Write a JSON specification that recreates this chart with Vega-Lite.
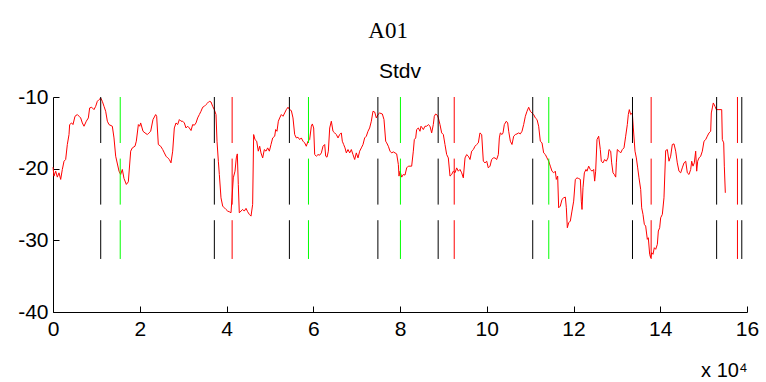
{
  "$schema": "https://vega.github.io/schema/vega-lite/v6.json",
  "background": "white",
  "padding": {"left": 17, "top": 20, "right": 5, "bottom": 5},
  "autosize": {"type": "pad"},
  "title": {"text": "A01", "font": "Liberation Serif", "fontSize": 23, "fontWeight": "normal", "color": "black", "frame": "bounds", "anchor": "middle", "offset": 18},
  "config": {
    "view": {"stroke": null},
    "font": "Liberation Sans",
    "axis": {"grid": false, "domainColor": "black", "tickColor": "black", "labelColor": "black", "labelFont": "Liberation Sans", "labelFontSize": 21, "tickSize": -6, "domainWidth": 1, "tickWidth": 1, "labelExpr": "toString(datum.value)"}
  },
  "datasets": {
    "signal": [
      {"t":0,"v":-19.8},{"t":0.023,"v":-21.04},{"t":0.062,"v":-20.35},{"t":0.1,"v":-21.18},{"t":0.138,"v":-20.58},{"t":0.177,"v":-21.5},{"t":0.215,"v":-20.11},{"t":0.254,"v":-18.96},{"t":0.292,"v":-18.72},{"t":0.33,"v":-16.63},{"t":0.369,"v":-15.24},{"t":0.384,"v":-13.85},{"t":0.43,"v":-13.62},{"t":0.461,"v":-13.85},{"t":0.507,"v":-12.69},{"t":0.561,"v":-12.45},{"t":0.6,"v":-12.69},{"t":0.638,"v":-12.92},{"t":0.676,"v":-13.62},{"t":0.715,"v":-14.08},{"t":0.768,"v":-13.38},{"t":0.815,"v":-12.92},{"t":0.845,"v":-11.53},{"t":0.891,"v":-11.43},{"t":0.945,"v":-11.76},{"t":0.984,"v":-11.3},{"t":1.022,"v":-10.6},{"t":1.06,"v":-10.37},{"t":1.1,"v":-10.14},{"t":1.137,"v":-10.6},{"t":1.176,"v":-11.3},{"t":1.214,"v":-11.99},{"t":1.253,"v":-13.38},{"t":1.291,"v":-13.85},{"t":1.368,"v":-14.08},{"t":1.406,"v":-15.71},{"t":1.445,"v":-18.26},{"t":1.522,"v":-20.35},{"t":1.56,"v":-20.81},{"t":1.598,"v":-20.11},{"t":1.637,"v":-21.37},{"t":1.691,"v":-22.2},{"t":1.737,"v":-21.83},{"t":1.791,"v":-17.56},{"t":1.829,"v":-17.1},{"t":1.89,"v":-16.87},{"t":1.921,"v":-16.17},{"t":1.968,"v":-13.85},{"t":1.998,"v":-14.08},{"t":2.021,"v":-13.62},{"t":2.075,"v":-14.78},{"t":2.121,"v":-15.01},{"t":2.175,"v":-15.24},{"t":2.213,"v":-15.01},{"t":2.252,"v":-14.78},{"t":2.305,"v":-13.15},{"t":2.367,"v":-12.45},{"t":2.39,"v":-12.69},{"t":2.428,"v":-16.63},{"t":2.482,"v":-16.87},
      {"t":2.529,"v":-17.33},{"t":2.567,"v":-17.8},{"t":2.605,"v":-18.26},{"t":2.644,"v":-18.5},{"t":2.682,"v":-18.72},{"t":2.72,"v":-19.19},{"t":2.759,"v":-17.56},{"t":2.797,"v":-14.32},{"t":2.836,"v":-13.62},{"t":2.874,"v":-13.85},{"t":2.913,"v":-13.15},{"t":2.951,"v":-13.38},{"t":2.99,"v":-13.38},{"t":3.028,"v":-13.62},{"t":3.066,"v":-14.32},{"t":3.105,"v":-14.08},{"t":3.143,"v":-14.32},{"t":3.182,"v":-14.68},{"t":3.22,"v":-13.85},{"t":3.259,"v":-13.94},{"t":3.297,"v":-13.62},{"t":3.335,"v":-12.92},{"t":3.374,"v":-12.45},{"t":3.412,"v":-11.99},{"t":3.451,"v":-11.43},{"t":3.489,"v":-11.3},{"t":3.527,"v":-11.06},{"t":3.566,"v":-10.83},{"t":3.604,"v":-10.6},{"t":3.643,"v":-10.69},{"t":3.681,"v":-11.3},{"t":3.719,"v":-11.76},{"t":3.758,"v":-12.45},{"t":3.781,"v":-16.17},{"t":3.812,"v":-18.96},{"t":3.835,"v":-20.81},{"t":3.873,"v":-24.07},{"t":3.912,"v":-25.22},{"t":3.95,"v":-25.46},{"t":3.988,"v":-25.69},{"t":4.027,"v":-25.92},{"t":4.065,"v":-26.01},{"t":4.104,"v":-26.15},{"t":4.127,"v":-24.07},{"t":4.157,"v":-21.28},{"t":4.196,"v":-20.35},{"t":4.226,"v":-18.5},{"t":4.249,"v":-17.94},{"t":4.272,"v":-22.2},{"t":4.295,"v":-26.15},{"t":4.334,"v":-25.92},{"t":4.373,"v":-25.69},{"t":4.41,"v":-25.92},{"t":4.45,"v":-25.54},{"t":4.488,"v":-26.01},{"t":4.526,"v":-26.38},{"t":4.565,"v":-26.62},{"t":4.603,"v":-24.99},{"t":4.626,"v":-15.24},{"t":4.657,"v":-15.94},{"t":4.696,"v":-16.17},{"t":4.733,"v":-17.56},{"t":4.765,"v":-16.87},{"t":4.795,"v":-17.8},{"t":4.834,"v":-18.5},{"t":4.872,"v":-17.33},{"t":4.911,"v":-17.56},{"t":4.949,"v":-17.1},{"t":4.988,"v":-17.56},{"t":5.026,"v":-16.63},{"t":5.065,"v":-15.71},
      {"t":5.111,"v":-15.47},{"t":5.134,"v":-14.54},{"t":5.164,"v":-14.78},{"t":5.195,"v":-13.38},{"t":5.226,"v":-12.92},{"t":5.264,"v":-12.45},{"t":5.303,"v":-12.69},{"t":5.341,"v":-12.23},{"t":5.379,"v":-11.76},{"t":5.418,"v":-11.43},{"t":5.456,"v":-11.76},{"t":5.495,"v":-11.9},{"t":5.533,"v":-12.92},{"t":5.572,"v":-15.24},{"t":5.61,"v":-15.71},{"t":5.648,"v":-15.61},{"t":5.687,"v":-15.94},{"t":5.725,"v":-15.71},{"t":5.764,"v":-16.17},{"t":5.802,"v":-16.4},{"t":5.84,"v":-16.87},{"t":5.879,"v":-16.17},{"t":5.917,"v":-15.94},{"t":5.956,"v":-14.08},{"t":5.979,"v":-13.76},{"t":6.01,"v":-14.32},{"t":6.033,"v":-18.03},{"t":6.071,"v":-18.26},{"t":6.11,"v":-18.03},{"t":6.148,"v":-18.12},{"t":6.187,"v":-17.8},{"t":6.225,"v":-16.87},{"t":6.264,"v":-16.63},{"t":6.287,"v":-18.26},{"t":6.317,"v":-18.4},{"t":6.348,"v":-17.56},{"t":6.379,"v":-14.32},{"t":6.417,"v":-13.38},{"t":6.455,"v":-14.78},{"t":6.494,"v":-15.01},{"t":6.532,"v":-15.24},{"t":6.571,"v":-15.71},{"t":6.609,"v":-15.24},{"t":6.647,"v":-15.01},{"t":6.67,"v":-16.17},{"t":6.701,"v":-16.63},{"t":6.732,"v":-17.1},{"t":6.763,"v":-17.8},{"t":6.801,"v":-17.33},{"t":6.84,"v":-17.8},{"t":6.878,"v":-17.33},{"t":6.916,"v":-18.03},{"t":6.955,"v":-18.72},{"t":6.993,"v":-17.8},{"t":7.032,"v":-18.5},{"t":7.07,"v":-17.56},{"t":7.109,"v":-17.1},{"t":7.147,"v":-16.63},{"t":7.185,"v":-15.71},{"t":7.224,"v":-15.47},{"t":7.262,"v":-14.78},{"t":7.3,"v":-14.32},{"t":7.339,"v":-13.38},{"t":7.377,"v":-11.99},{"t":7.416,"v":-12.09},{"t":7.454,"v":-12.92},{"t":7.493,"v":-12.45},{"t":7.531,"v":-12.23},{"t":7.593,"v":-12.37},{"t":7.631,"v":-13.15},{"t":7.67,"v":-16.17},
      {"t":7.693,"v":-16.4},{"t":7.731,"v":-16.87},{"t":7.77,"v":-17.56},{"t":7.808,"v":-17.8},{"t":7.846,"v":-17.66},{"t":7.885,"v":-17.8},{"t":7.923,"v":-17.94},{"t":7.962,"v":-19.42},{"t":7.977,"v":-21.04},{"t":8.0,"v":-20.35},{"t":8.039,"v":-21.18},{"t":8.077,"v":-20.81},{"t":8.115,"v":-20.9},{"t":8.154,"v":-19.89},{"t":8.192,"v":-19.65},{"t":8.231,"v":-19.65},{"t":8.269,"v":-19.65},{"t":8.307,"v":-17.56},{"t":8.33,"v":-15.94},{"t":8.362,"v":-15.71},{"t":8.384,"v":-14.54},{"t":8.423,"v":-14.32},{"t":8.461,"v":-14.78},{"t":8.484,"v":-14.08},{"t":8.515,"v":-14.32},{"t":8.538,"v":-14.54},{"t":8.576,"v":-14.08},{"t":8.615,"v":-14.08},{"t":8.653,"v":-13.85},{"t":8.692,"v":-14.08},{"t":8.73,"v":-15.01},{"t":8.768,"v":-13.85},{"t":8.791,"v":-12.69},{"t":8.822,"v":-12.37},{"t":8.861,"v":-12.55},{"t":8.884,"v":-12.92},{"t":8.922,"v":-13.85},{"t":8.961,"v":-15.01},{"t":8.999,"v":-15.24},{"t":9.037,"v":-16.63},{"t":9.076,"v":-18.03},{"t":9.114,"v":-18.5},{"t":9.153,"v":-21.04},{"t":9.191,"v":-20.81},{"t":9.229,"v":-20.35},{"t":9.268,"v":-20.58},{"t":9.306,"v":-19.89},{"t":9.345,"v":-20.35},{"t":9.383,"v":-20.11},{"t":9.422,"v":-20.58},{"t":9.46,"v":-21.28},{"t":9.499,"v":-18.5},{"t":9.537,"v":-18.03},{"t":9.575,"v":-18.26},{"t":9.614,"v":-18.72},{"t":9.652,"v":-17.56},{"t":9.691,"v":-17.33},{"t":9.729,"v":-16.87},{"t":9.768,"v":-16.63},{"t":9.806,"v":-16.4},{"t":9.844,"v":-15.01},{"t":9.883,"v":-15.24},{"t":9.921,"v":-18.96},{"t":9.96,"v":-19.19},{"t":9.999,"v":-18.96},{"t":10.036,"v":-19.89},{"t":10.075,"v":-19.65},{"t":10.113,"v":-18.72},{"t":10.152,"v":-18.5},{"t":10.19,"v":-18.5},{"t":10.229,"v":-18.72},{"t":10.267,"v":-18.03},
      {"t":10.29,"v":-15.71},{"t":10.313,"v":-15.01},{"t":10.352,"v":-15.24},{"t":10.375,"v":-15.01},{"t":10.405,"v":-13.85},{"t":10.451,"v":-13.38},{"t":10.483,"v":-13.62},{"t":10.506,"v":-14.78},{"t":10.544,"v":-16.17},{"t":10.582,"v":-16.63},{"t":10.621,"v":-15.47},{"t":10.659,"v":-15.24},{"t":10.697,"v":-15.15},{"t":10.736,"v":-15.01},{"t":10.774,"v":-15.15},{"t":10.813,"v":-14.78},{"t":10.851,"v":-13.85},{"t":10.89,"v":-12.69},{"t":10.928,"v":-11.99},{"t":10.967,"v":-11.43},{"t":11.005,"v":-11.99},{"t":11.043,"v":-12.23},{"t":11.082,"v":-12.45},{"t":11.12,"v":-12.92},{"t":11.159,"v":-13.15},{"t":11.197,"v":-14.08},{"t":11.235,"v":-16.17},{"t":11.274,"v":-16.4},{"t":11.312,"v":-17.8},{"t":11.351,"v":-18.03},{"t":11.389,"v":-18.5},{"t":11.428,"v":-18.96},{"t":11.466,"v":-19.65},{"t":11.504,"v":-20.35},{"t":11.543,"v":-20.58},{"t":11.581,"v":-20.35},{"t":11.604,"v":-21.5},{"t":11.635,"v":-21.04},{"t":11.658,"v":-25.46},{"t":11.696,"v":-25.22},{"t":11.735,"v":-24.29},{"t":11.773,"v":-24.07},{"t":11.812,"v":-23.97},{"t":11.835,"v":-25.46},{"t":11.858,"v":-28.24},{"t":11.889,"v":-27.55},{"t":11.927,"v":-27.31},{"t":11.965,"v":-25.92},{"t":12.004,"v":-24.53},{"t":12.042,"v":-21.5},{"t":12.081,"v":-21.28},{"t":12.119,"v":-21.37},{"t":12.158,"v":-21.5},{"t":12.18,"v":-24.53},{"t":12.196,"v":-25.69},{"t":12.219,"v":-22.67},{"t":12.25,"v":-20.58},{"t":12.288,"v":-20.11},{"t":12.311,"v":-20.35},{"t":12.35,"v":-19.65},{"t":12.387,"v":-20.11},{"t":12.426,"v":-20.35},{"t":12.465,"v":-20.11},{"t":12.488,"v":-21.74},{"t":12.511,"v":-20.35},{"t":12.542,"v":-15.94},{"t":12.58,"v":-15.47},{"t":12.618,"v":-17.33},{"t":12.641,"v":-18.96},{"t":12.68,"v":-19.19},{"t":12.718,"v":-18.72},{"t":12.757,"v":-18.96},{"t":12.795,"v":-18.5},
      {"t":12.818,"v":-17.33},{"t":12.857,"v":-17.56},{"t":12.88,"v":-19.19},{"t":12.911,"v":-20.58},{"t":12.941,"v":-20.81},{"t":12.973,"v":-21.18},{"t":12.988,"v":-19.19},{"t":13.01,"v":-17.33},{"t":13.049,"v":-17.56},{"t":13.088,"v":-17.8},{"t":13.126,"v":-17.33},{"t":13.164,"v":-17.1},{"t":13.203,"v":-15.47},{"t":13.241,"v":-13.85},{"t":13.264,"v":-12.45},{"t":13.287,"v":-11.76},{"t":13.318,"v":-12.45},{"t":13.356,"v":-12.23},{"t":13.379,"v":-14.32},{"t":13.418,"v":-17.56},{"t":13.449,"v":-18.5},{"t":13.48,"v":-19.89},{"t":13.51,"v":-21.28},{"t":13.549,"v":-22.9},{"t":13.572,"v":-25.46},{"t":13.602,"v":-26.38},{"t":13.633,"v":-27.77},{"t":13.664,"v":-28.01},{"t":13.702,"v":-29.86},{"t":13.725,"v":-29.64},{"t":13.756,"v":-31.95},{"t":13.779,"v":-32.42},{"t":13.802,"v":-31.73},{"t":13.833,"v":-31.95},{"t":13.863,"v":-31.03},{"t":13.895,"v":-31.25},{"t":13.933,"v":-30.56},{"t":13.956,"v":-28.7},{"t":13.987,"v":-28.24},{"t":14.01,"v":-26.85},{"t":14.048,"v":-26.38},{"t":14.086,"v":-24.07},{"t":14.125,"v":-17.47},{"t":14.163,"v":-17.33},{"t":14.202,"v":-18.96},{"t":14.24,"v":-18.26},{"t":14.278,"v":-16.63},{"t":14.317,"v":-16.54},{"t":14.356,"v":-17.56},{"t":14.393,"v":-19.19},{"t":14.432,"v":-20.35},{"t":14.471,"v":-20.58},{"t":14.508,"v":-19.89},{"t":14.548,"v":-19.19},{"t":14.587,"v":-18.96},{"t":14.624,"v":-20.58},{"t":14.663,"v":-20.81},{"t":14.702,"v":-20.11},{"t":14.725,"v":-18.96},{"t":14.755,"v":-19.65},{"t":14.785,"v":-19.19},{"t":14.817,"v":-17.56},{"t":14.84,"v":-20.35},{"t":14.863,"v":-18.96},{"t":14.893,"v":-18.5},{"t":14.932,"v":-18.26},{"t":14.97,"v":-17.56},{"t":15.009,"v":-16.17},{"t":15.048,"v":-15.94},{"t":15.085,"v":-15.47},{"t":15.124,"v":-15.01},{"t":15.163,"v":-14.78},{"t":15.177,"v":-12.23},{"t":15.2,"v":-11.53},{"t":15.223,"v":-10.83},{"t":15.262,"v":-11.3},{"t":15.292,"v":-11.76},{"t":15.354,"v":-11.76},{"t":15.417,"v":-11.76},{"t":15.431,"v":-15.94},{"t":15.463,"v":-16.4},{"t":15.477,"v":-19.65},{"t":15.5,"v":-23.37}
    ],
    "events": [
      {"t":1.10,"c":"k"},{"t":1.55,"c":"g"},{"t":3.72,"c":"k"},{"t":4.13,"c":"r"},{"t":5.45,"c":"k"},{"t":5.89,"c":"g"},{"t":7.49,"c":"k"},{"t":8.01,"c":"g"},{"t":8.88,"c":"k"},{"t":9.25,"c":"r"},{"t":11.06,"c":"k"},{"t":11.43,"c":"g"},{"t":13.36,"c":"k"},{"t":13.79,"c":"r"},{"t":15.30,"c":"k"},{"t":15.78,"c":"r"},{"t":15.88,"c":"k"}
    ]
  },
  "vconcat": [
    {
      "width": 694,
      "height": 215,
      "title": {"text": "Stdv", "font": "Liberation Sans", "fontSize": 21, "fontWeight": "normal", "color": "black", "frame": "group", "anchor": "middle", "offset": 4},
      "layer": [
        {
          "data": {"name": "signal"},
          "mark": {"type": "line", "color": "#ff0000", "strokeWidth": 1, "interpolate": "linear"},
          "encoding": {
            "x": {"field": "t", "type": "quantitative", "scale": {"domain": [0, 16], "nice": false, "zero": false},
                  "axis": {"values": [0,2,4,6,8,10,12,14,16], "labelPadding": 12, "title": "x 10⁴", "titleFont": "Liberation Sans", "titleFontSize": 20, "titleFontWeight": "normal", "titleColor": "black", "titleAnchor": "end", "titlePadding": 21, "labelFlush": false}},
            "y": {"field": "v", "type": "quantitative", "scale": {"domain": [-40, -10], "nice": false, "zero": false},
                  "axis": {"values": [-40,-30,-20,-10], "labelPadding": 11, "title": null}}
          }
        },
        {
          "data": {"name": "events"},
          "mark": {"type": "rule", "strokeWidth": 1, "strokeDash": [46, 15.6]},
          "encoding": {
            "x": {"field": "t", "type": "quantitative"},
            "y": {"datum": -10},
            "y2": {"datum": -32.6},
            "color": {"field": "c", "type": "nominal", "scale": {"domain": ["k","g","r"], "range": ["#000000","#00ff00","#ff0000"]}, "legend": null}
          }
        }
      ]
    }
  ]
}
